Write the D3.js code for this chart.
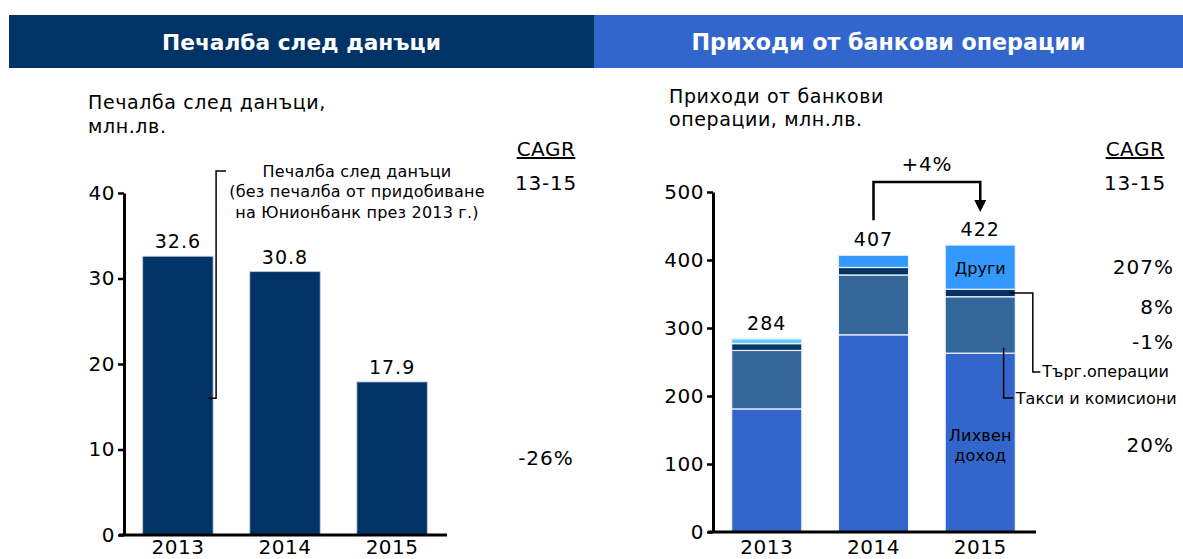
<!DOCTYPE html>
<html>
<head>
<meta charset="utf-8">
<script src="https://cdn.jsdelivr.net/npm/d3@7/dist/d3.min.js"></script>
<style>
  html, body { margin: 0; padding: 0; background: #fff; }
  svg { display: block; font-family: "DejaVu Sans", Verdana, sans-serif; }
</style>
</head>
<body>
<svg id="chart" width="1183" height="559"></svg>
<script>
// ---- data ----
const years = ["2013", "2014", "2015"];
const profit = [32.6, 30.8, 17.9];
const profitTicks = [0, 10, 20, 30, 40];
const profitCagr = "-26%";

const segmentNames = ["Лихвен доход", "Такси и комисиони", "Търг.операции", "Други"];
const interestIncome = [181, 290, 263];
const feesCommissions = [86, 88, 83];
const tradingOps = [10, 11, 11];
const otherIncome = [7, 18, 65];
const incomeTotals = [284, 407, 422];
const incomeTicks = [0, 100, 200, 300, 400, 500];
const incomeCagr = ["20%", "-1%", "8%", "207%"];
const growthLabel = "+4%";

const titles = ["Печалба след данъци", "Приходи от банкови операции"];
const subtitleProfit = ["Печалба след данъци,", "млн.лв."];
const subtitleIncome = ["Приходи от банкови", "операции, млн.лв."];
const profitNote = ["Печалба след данъци", "(без печалба от придобиване", "на Юнионбанк през 2013 г.)"];

// ---- styles ----
const NAVY = "#003366";
const BLUE = "#3366CC";
const segColors = ["#3366CC", "#336699", "#003366", "#3399FF"];
const otherColorFirst = "#66CCFF";

const svg = d3.select("#chart");

// header bands
svg.append("rect").attr("x", 9).attr("y", 15).attr("width", 585).attr("height", 53).attr("fill", NAVY);
svg.append("rect").attr("x", 594).attr("y", 15).attr("width", 589).attr("height", 53).attr("fill", BLUE);
svg.append("text").attr("x", 301.5).attr("y", 50).attr("text-anchor", "middle")
  .attr("fill", "#fff").attr("font-weight", "bold").attr("font-size", 21.7).text(titles[0]);
svg.append("text").attr("x", 888.5).attr("y", 50).attr("text-anchor", "middle")
  .attr("fill", "#fff").attr("font-weight", "bold").attr("font-size", 22.2).text(titles[1]);

function multiline(x, ys, lines, size, anchor, spacing) {
  lines.forEach((t, i) => {
    svg.append("text").attr("x", x).attr("y", ys[i]).attr("font-size", size)
      .attr("letter-spacing", spacing || 0)
      .attr("text-anchor", anchor || "start").attr("fill", "#000").text(t);
  });
}
multiline(88, [109, 133], subtitleProfit, 19, "start", 0.6);
multiline(669, [103, 126], subtitleIncome, 19, "start", 0.6);

function cagrHeader(cx) {
  svg.append("text").attr("x", cx).attr("y", 156).attr("text-anchor", "middle")
    .attr("font-size", 20).attr("letter-spacing", 0.5)
    .attr("text-decoration", "underline").text("CAGR");
  svg.append("text").attr("x", cx).attr("y", 190).attr("text-anchor", "middle")
    .attr("font-size", 20).attr("letter-spacing", 0.8).text("13-15");
}
cagrHeader(546);
cagrHeader(1135);

function styleAxis(g) {
  g.select(".domain").attr("stroke", "#000").attr("stroke-width", 3);
  g.selectAll(".tick line").attr("stroke", "#000").attr("stroke-width", 2.5);
  g.selectAll(".tick text").attr("font-size", 20).attr("fill", "#000")
    .attr("letter-spacing", 0.5)
    .attr("font-family", "DejaVu Sans, Verdana, sans-serif");
}

// ---- left chart: profit after tax ----
const xP = d3.scaleBand().domain(years).range([124, 446]).paddingInner(0.343).paddingOuter(0.175);
const yP = d3.scaleLinear().domain([0, 40]).range([535, 193]);

const gP = svg.append("g");
gP.selectAll("rect.bar").data(years).join("rect")
  .attr("class", "bar")
  .attr("x", d => xP(d)).attr("width", xP.bandwidth())
  .attr("y", (d, i) => yP(profit[i])).attr("height", (d, i) => yP(0) - yP(profit[i]))
  .attr("fill", NAVY).attr("stroke", "#b8c8dc").attr("stroke-width", 0.8);

gP.selectAll("text.val").data(years).join("text")
  .attr("class", "val")
  .attr("x", d => xP(d) + xP.bandwidth() / 2).attr("y", (d, i) => yP(profit[i]) - 8)
  .attr("text-anchor", "middle").attr("font-size", 19).attr("letter-spacing", 1)
  .text((d, i) => profit[i].toFixed(1));

const axP = svg.append("g").attr("transform", "translate(124,0)")
  .call(d3.axisLeft(yP).tickValues(profitTicks).tickSize(6).tickSizeOuter(0).tickPadding(3));
styleAxis(axP);
svg.append("line").attr("x1", 119).attr("x2", 447).attr("y1", yP(0)).attr("y2", yP(0))
  .attr("stroke", "#000").attr("stroke-width", 3);

svg.selectAll("text.yearP").data(years).join("text")
  .attr("class", "yearP")
  .attr("x", d => xP(d) + xP.bandwidth() / 2).attr("y", 554)
  .attr("text-anchor", "middle").attr("font-size", 20).attr("letter-spacing", 0.5).text(d => d);

// note bracket on the 2013 bar
const nb = xP(years[0]) + xP.bandwidth() + 3;
svg.append("path")
  .attr("d", `M${nb - 8},${yP(16)} H${nb} V${171} H${nb + 10}`)
  .attr("fill", "none").attr("stroke", "#000").attr("stroke-width", 1.5);
multiline(357, [177, 197, 218], profitNote, 16, "middle", 0.2);

svg.append("text").attr("x", 546).attr("y", yP(profit[2] / 2) + 7).attr("text-anchor", "middle")
  .attr("font-size", 20).attr("letter-spacing", 1).text(profitCagr);

// ---- right chart: banking income ----
const xI = d3.scaleBand().domain(years).range([713, 1034]).paddingInner(0.343).paddingOuter(0.175);
const yI = d3.scaleLinear().domain([0, 500]).range([532, 192]);

const table = years.map((y, i) => ({
  year: y,
  "Лихвен доход": interestIncome[i],
  "Такси и комисиони": feesCommissions[i],
  "Търг.операции": tradingOps[i],
  "Други": otherIncome[i]
}));
const stacked = d3.stack().keys(segmentNames)(table);

const gI = svg.append("g");
stacked.forEach((layer, li) => {
  gI.selectAll(null).data(layer).join("rect")
    .attr("x", d => xI(d.data.year)).attr("width", xI.bandwidth())
    .attr("y", d => yI(d[1])).attr("height", d => yI(d[0]) - yI(d[1]))
    .attr("fill", (d, i) => (li === 3 && i === 0) ? otherColorFirst : segColors[li])
    .attr("stroke", "#eef2f8").attr("stroke-width", 1.2);
});

gI.selectAll("text.tot").data(years).join("text")
  .attr("class", "tot")
  .attr("x", d => xI(d) + xI.bandwidth() / 2).attr("y", (d, i) => yI(incomeTotals[i]) - 9)
  .attr("text-anchor", "middle").attr("font-size", 19).attr("letter-spacing", 1)
  .text((d, i) => incomeTotals[i]);

const axI = svg.append("g").attr("transform", "translate(713,0)")
  .call(d3.axisLeft(yI).tickValues(incomeTicks).tickSize(6).tickSizeOuter(0).tickPadding(3));
styleAxis(axI);
svg.append("line").attr("x1", 708).attr("x2", 1036).attr("y1", yI(0)).attr("y2", yI(0))
  .attr("stroke", "#000").attr("stroke-width", 3);

svg.selectAll("text.yearI").data(years).join("text")
  .attr("class", "yearI")
  .attr("x", d => xI(d) + xI.bandwidth() / 2).attr("y", 554)
  .attr("text-anchor", "middle").attr("font-size", 20).attr("letter-spacing", 0.5).text(d => d);

// in-bar labels on 2015
const last = years.length - 1;
const cx15 = xI(years[last]) + xI.bandwidth() / 2;
const oth = stacked[3][last];
svg.append("text").attr("x", cx15).attr("y", (yI(oth[0]) + yI(oth[1])) / 2 + 7)
  .attr("text-anchor", "middle").attr("font-size", 16).text(segmentNames[3]);
multiline(cx15, [441, 461], segmentNames[0].split(" "), 16, "middle", 0.2);

// leader lines for the thin segments
const trd = stacked[2][last];
const trdY = (yI(trd[0]) + yI(trd[1])) / 2;
const rightEdge = xI(years[last]) + xI.bandwidth();
svg.append("path")
  .attr("d", `M${rightEdge - 6},${trdY} H${rightEdge + 17.5} V372 H${rightEdge + 25}`)
  .attr("fill", "none").attr("stroke", "#000").attr("stroke-width", 1.5);
svg.append("text").attr("x", rightEdge + 27).attr("y", 377).attr("font-size", 16).text(segmentNames[2]);

const fee = stacked[1][last];
svg.append("path")
  .attr("d", `M${rightEdge - 11.7},${yI(fee[1]) + 51} V398 H${rightEdge - 2}`)
  .attr("fill", "none").attr("stroke", "#000").attr("stroke-width", 1.5);
svg.append("text").attr("x", rightEdge + 0.5).attr("y", 404).attr("font-size", 16).text(segmentNames[1]);

// growth arrow 2014 -> 2015
const cx14 = xI(years[1]) + xI.bandwidth() / 2;
svg.append("path")
  .attr("d", `M${cx14},${yI(incomeTotals[1]) - 35} V182 H${cx15} V201`)
  .attr("fill", "none").attr("stroke", "#000").attr("stroke-width", 2.5);
svg.append("path")
  .attr("d", `M${cx15 - 6},200 L${cx15 + 6},200 L${cx15},212 Z`).attr("fill", "#000");
svg.append("text").attr("x", (cx14 + cx15) / 2).attr("y", 171).attr("text-anchor", "middle")
  .attr("font-size", 20).attr("letter-spacing", 0.8).text(growthLabel);

// CAGR per segment, placed beside the 2015 stack
const cagrNudge = [2, 17, 14, 0];
incomeCagr.forEach((t, k) => {
  const s = stacked[k][last];
  svg.append("text").attr("x", 1174).attr("y", (yI(s[0]) + yI(s[1])) / 2 + 7 + cagrNudge[k])
    .attr("text-anchor", "end").attr("font-size", 20).attr("letter-spacing", 1).text(t);
});
</script>
</body>
</html>
